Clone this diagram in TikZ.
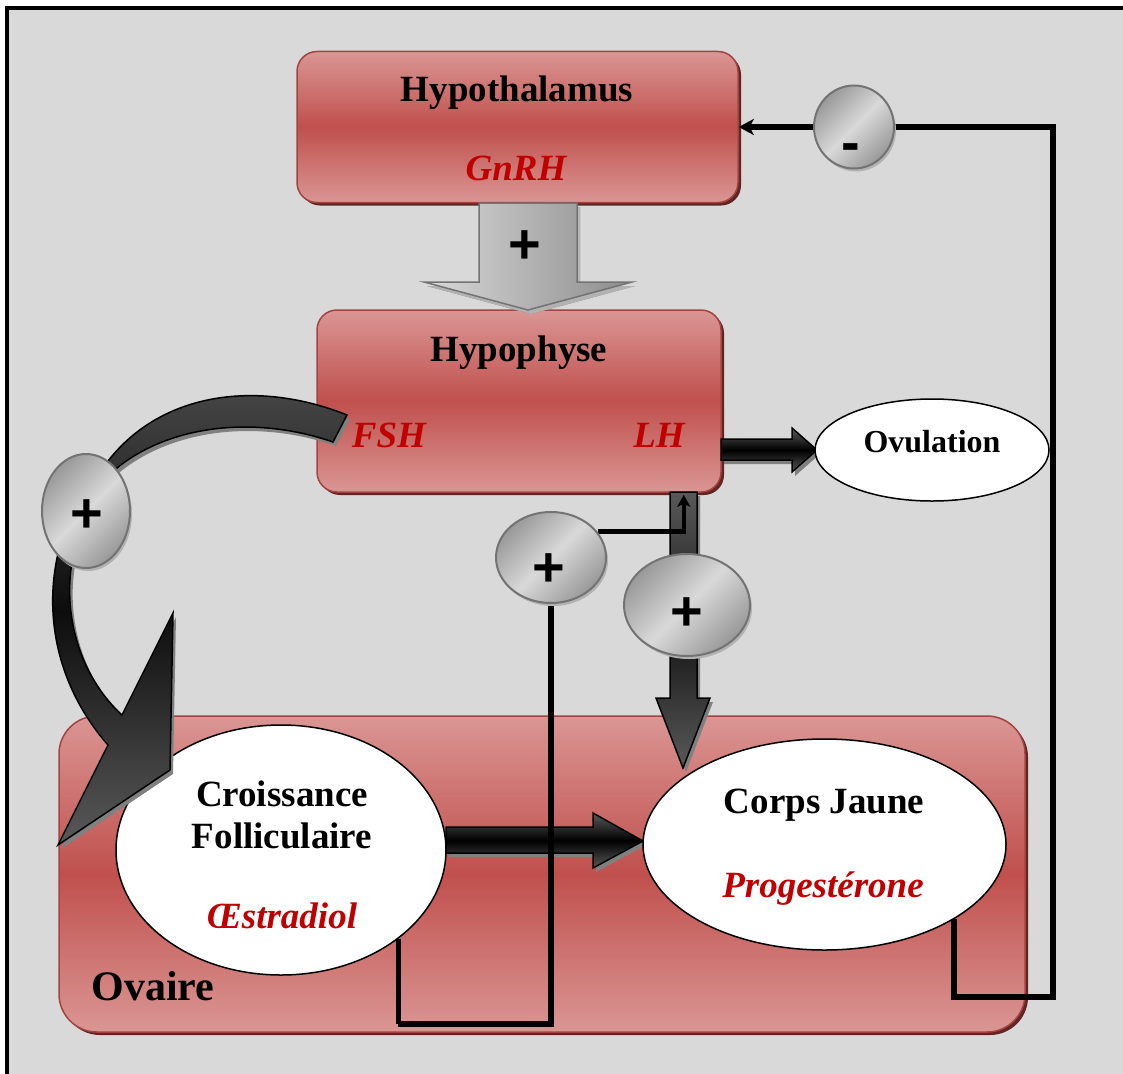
\documentclass[tikz,border=0pt]{standalone}
\usepackage{fontspec}
\setmainfont{Liberation Serif}
\newfontfamily\sansfont{Liberation Sans}
\usetikzlibrary{shapes.geometric,shadows,arrows.meta,calc}
\definecolor{bgray}{HTML}{D9D9D9}
\definecolor{rmid}{HTML}{C0504D}
\definecolor{rlight}{HTML}{DA9694}
\definecolor{rdark}{HTML}{632523}
\definecolor{txtred}{HTML}{C00000}
\pgfdeclarelayer{back}
\pgfdeclarelayer{mid}
\pgfsetlayers{back,mid,main}
\begin{document}
\begin{tikzpicture}[x=1pt,y=-1pt,
  organ/.style={draw=rmid!85!black, line width=1.5pt, rounded corners=20pt,
    top color=rlight, bottom color=rlight, middle color=rmid,
    drop shadow={shadow xshift=3pt, shadow yshift=-3pt, fill=rdark, opacity=1}, inner sep=0pt},
  ovalbox/.style={ellipse, draw=black, line width=1.5pt, fill=white, inner sep=0pt},
  badge/.style={ellipse, draw=black!55, line width=2pt,
    top color=black!40, bottom color=black!40, middle color=black!15, shading angle=45,
    drop shadow={shadow xshift=2pt, shadow yshift=-3pt, fill=black!30, opacity=1}, inner sep=0pt},
  conn/.style={line width=5.5pt, black, line join=miter},
  fat/.style={draw=black, line width=1.5pt, line join=miter,
    drop shadow={shadow xshift=3pt, shadow yshift=-4pt, fill=black!50, opacity=1}},
  lbl/.style={font=\fontsize{37}{44}\selectfont\bfseries, anchor=base, inner sep=0pt},
  hor/.style={font=\fontsize{37}{44}\selectfont\bfseries\itshape, text=txtred, anchor=base, inner sep=0pt},
  sign/.style={font=\sansfont\fontsize{56}{56}\selectfont\bfseries, inner sep=0pt}
]
\useasboundingbox (0,0) rectangle (1123,1073);
\begin{pgfonlayer}{back}
  \fill[white] (0,0) rectangle (1123,1073);
  \fill[bgray] (7,8) rectangle (1130,1080);
  \draw[line width=4pt] (7,1080) -- (7,8) -- (1130,8);
  % boxes
  \node[organ, rounded corners=38pt, minimum width=966pt, minimum height=316pt] (ovaire) at (542,874) {};
  \node[organ, minimum width=441pt, minimum height=151pt] (hypo) at (517.5,127) {};
  \node[organ, minimum width=404pt, minimum height=182pt] (hphys) at (519,401) {};
  % fat arrows
  \path[fat, draw=black!55, left color=black!15, right color=black!45,
    drop shadow={shadow xshift=3pt, shadow yshift=-4pt, fill=black!30, opacity=1}]
    (479,203) -- (577,203) -- (577,282) -- (632,282) -- (528,310) -- (424,282) -- (479,282) -- cycle;
  \path[fat, top color=black!65, bottom color=black!65, middle color=black!92]
    (670,492) -- (697,492) -- (697,698) -- (710,698) -- (683,768) -- (656,698) -- (670,698) -- cycle;
  \path[fat, top color=black!65, bottom color=black!65, middle color=black]
    (721,439) -- (792,439) -- (792,428) -- (817,450) -- (792,472) -- (792,460) -- (721,460) -- cycle;
  \path[fat, top color=black!65, bottom color=black!65, middle color=black]
    (446,827) -- (593,827) -- (593,813) -- (643,841) -- (593,868) -- (593,853) -- (446,853) -- cycle;
\end{pgfonlayer}

% ellipses
\node[ovalbox, minimum width=330pt, minimum height=250pt] (crois) at (281,850) {};
\node[ovalbox, minimum width=363pt, minimum height=211pt] (cj) at (824.5,844.5) {};
\node[ovalbox, minimum width=234pt, minimum height=102pt] (ovul) at (932,450) {};

% curved FSH arrow
\path[fat, top color=black!72, bottom color=black!65, middle color=black!95]
  (347,415) .. controls (260,380) and (160,390) .. (105,465)
  .. controls (45,525) and (25,650) .. (108,745)
  -- (58,845) -- (170,770) -- (173,613) -- (122,715)
  .. controls (62,660) and (45,550) .. (117,468)
  .. controls (170,425) and (255,415) .. (333,442)
  -- cycle;

% badges
\node[badge, minimum width=80pt, minimum height=83pt] (minus) at (854,127) {};
\node[badge, minimum width=88pt, minimum height=114pt] (lplus) at (86,511) {};
\node[badge, minimum width=110pt, minimum height=91pt] (mplus) at (551,557.5) {};
\node[badge, minimum width=126pt, minimum height=102pt] (rplus) at (687,605) {};

% connectors
\begin{pgfonlayer}{mid}
  \coordinate (c1) at (1053,997);
  \coordinate (c2) at (398,1024);
  \draw[conn] (cj.-30.5) |- (c1) |- (minus.east);
  \draw[conn, -{Stealth[length=15pt,width=16pt,inset=4pt]}] (minus.west) -- (hypo.east);
  \draw[conn, shorten >=0pt] (crois.-37) |- (c2) -| (mplus.south);
  \draw[conn, line width=4.5pt, shorten >=2pt, -{Stealth[length=12pt,width=13pt,inset=3pt]}] (mplus.29) -| ([xshift=-38pt]hphys.south east);
\end{pgfonlayer}

% texts
\node[lbl] (t-hypo) at (517,101) {Hypothalamus};
\node[hor] (t-gnrh) at (516,180) {GnRH};
\node[lbl] (t-hphys) at (519,361) {Hypophyse};
\node[hor] (t-fsh) at (389,447) {FSH};
\node[hor] (t-lh) at (659,447) {LH};
\node[lbl, font=\fontsize{32}{38}\selectfont\bfseries] (t-ovul) at (932,452) {Ovulation};
\node[lbl] (t-c1) at (282,806) {Croissance};
\node[lbl] (t-c2) at (282,848) {Folliculaire};
\node[hor] (t-oe) at (282,928) {Œstradiol};
\node[lbl] (t-cj) at (824,813) {Corps Jaune};
\node[hor] (t-prog) at (823,897) {Progestérone};
\node[lbl, font=\fontsize{42}{48}\selectfont\bfseries] (t-ov) at (153,1000) {Ovaire};

% signs
\node[sign] (s-gnrh) at (525,247) {+};
\node[sign] (s-l) at (87,516) {+};
\node[sign] (s-m) at (549,570) {+};
\node[sign] (s-r) at (687,614) {+};
\node[sign] (s-minus) at (851,153) {-};
\end{tikzpicture}
\end{document}
